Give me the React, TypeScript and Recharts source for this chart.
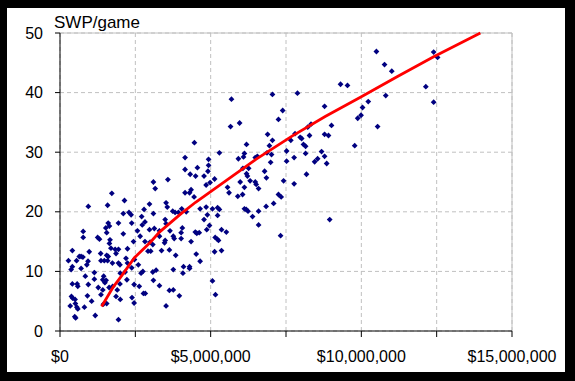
import React from 'react';
import { ScatterChart, Scatter, XAxis, YAxis, CartesianGrid, ReferenceLine } from 'recharts';

// player salary ($ millions) and SWP per game
const salaryM = [
  1.72, 1.58, 2.14, 0.94, 2.10, 2.29, 2.36, 1.60, 1.64, 1.94, 1.52, 1.55, 0.77, 0.77, 2.10, 1.25, 1.31, 1.66, 1.64, 2.44,
  1.94, 1.69, 1.83, 1.86, 2.24, 0.41, 0.97, 1.35, 1.55, 1.58, 1.47, 1.60, 0.64, 0.70, 0.76, 0.55, 0.28, 0.93, 0.89, 1.36,
  1.74, 1.94, 1.99, 2.19, 2.24, 0.41, 0.37, 0.70, 1.14, 2.16, 2.47, 0.84, 1.45, 1.42, 1.53, 1.49, 1.14, 2.00, 0.41, 0.57,
  0.59, 0.94, 1.27, 1.99, 2.22, 2.46, 1.42, 1.63, 1.75, 1.90, 0.38, 0.42, 0.50, 0.91, 1.36, 1.86, 2.00, 2.39, 1.05, 0.51,
  0.56, 0.59, 0.34, 0.81, 1.44, 1.55, 0.49, 0.52, 1.17, 1.94, 2.38,
  3.10, 3.16, 4.85, 4.15, 4.30, 4.35, 4.45, 2.97, 3.52, 3.56, 2.79, 2.38, 2.71, 3.10, 3.74, 3.82, 3.93, 4.04, 4.19, 4.65,
  4.85, 4.78, 2.82, 2.73, 3.49, 3.52, 2.57, 2.97, 3.13, 3.30, 3.65, 4.06, 4.02, 4.49, 4.54, 4.62, 4.87, 2.66, 3.30, 3.76,
  3.79, 4.02, 2.82, 2.99, 3.08, 3.49, 3.47, 4.35, 2.92, 3.01, 3.37, 3.63, 3.84, 4.52, 4.65, 2.60, 2.75, 2.69, 3.08, 3.19,
  3.76, 4.08, 4.10, 4.30, 4.30, 3.10, 2.63, 3.30, 3.63, 3.76, 2.77, 2.83, 3.96, 2.46, 3.52,
  5.98, 5.56, 5.61, 6.12, 6.48, 6.51, 6.59, 7.42, 5.90, 6.06, 7.25, 7.34, 7.09, 6.84, 6.12, 6.18, 6.24, 6.59, 6.39, 5.06,
  5.23, 5.29, 4.89, 5.23, 4.96, 6.59, 5.36, 5.52, 5.15, 5.22, 5.26, 7.32, 5.13, 5.36, 5.06, 5.16,
  7.05, 5.69, 7.39, 7.25, 5.66, 5.96, 4.46, 6.89, 7.05, 6.95, 6.19, 5.29, 7.52, 7.66, 6.87, 7.02, 6.48, 6.55, 6.09, 6.12,
  5.92, 4.15, 4.93, 6.99, 7.52, 7.77, 4.15, 4.56, 4.93, 4.91, 6.26, 6.07, 6.79, 4.32, 4.50, 4.78, 6.19, 6.22, 6.85, 5.13,
  4.98, 6.31, 7.77, 3.58,
  10.50, 12.40, 12.53, 10.77, 11.01, 9.31, 9.54, 12.14, 7.88, 10.81, 12.40, 10.23, 10.04, 8.78, 9.99, 9.88, 10.54, 9.01, 8.33, 8.22,
  8.78, 8.91, 8.28, 7.80, 7.97, 8.02, 8.08, 8.15, 9.78, 8.68, 8.15, 8.78, 8.55, 8.45, 8.85, 8.18, 8.95,
];

const swpPerGame = [
  23.1, 21.1, 21.9, 20.9, 19.7, 19.9, 19.5, 18.1, 17.6, 18.1, 17.3, 16.5, 16.7, 15.7, 16.3, 15.7, 15.4, 15.3, 14.7, 15.0,
  13.7, 13.9, 13.7, 13.0, 13.8, 13.5, 13.3, 13.0, 12.7, 11.8, 11.8, 12.5, 12.5, 12.5, 12.4, 11.8, 11.8, 11.7, 11.1, 11.8,
  11.4, 11.4, 11.1, 12.2, 11.4, 10.8, 10.3, 10.5, 9.8, 9.9, 12.0, 9.2, 9.2, 8.6, 8.5, 8.1, 8.7, 9.7, 7.9, 7.9,
  7.5, 7.8, 7.3, 7.9, 8.6, 7.8, 6.9, 7.3, 7.5, 6.9, 5.8, 5.5, 5.3, 5.9, 6.1, 5.8, 5.3, 5.6, 5.0, 4.6,
  4.0, 3.7, 4.2, 4.0, 4.5, 4.6, 2.4, 2.2, 2.6, 1.9, 10.6,
  25.0, 23.9, 24.5, 23.2, 23.2, 23.7, 22.5, 21.3, 21.5, 20.8, 20.4, 18.1, 19.2, 19.7, 20.1, 19.9, 19.9, 20.5, 20.0, 20.5,
  20.8, 18.7, 18.3, 17.8, 18.7, 18.0, 16.8, 17.0, 17.2, 16.8, 16.8, 17.3, 16.5, 16.6, 16.4, 16.5, 17.0, 15.9, 15.9, 15.9,
  15.5, 15.5, 15.0, 14.9, 14.5, 15.2, 14.8, 15.0, 13.4, 13.4, 13.5, 13.6, 12.7, 12.9, 11.7, 11.1, 10.0, 9.7, 9.9, 10.2,
  10.3, 9.7, 10.8, 10.8, 10.5, 8.5, 7.5, 7.6, 6.8, 6.9, 6.3, 6.3, 5.9, 4.7, 4.2,
  25.0, 24.1, 23.2, 24.1, 25.0, 24.6, 23.9, 25.2, 22.6, 22.9, 22.9, 22.5, 21.4, 20.9, 20.5, 20.4, 20.1, 20.1, 19.2, 20.5,
  20.7, 20.4, 19.5, 19.4, 17.7, 17.8, 17.0, 16.6, 15.7, 15.4, 15.2, 16.0, 13.3, 13.5, 8.4, 6.1,
  39.7, 38.9, 37.0, 35.5, 34.3, 34.9, 31.6, 33.0, 32.0, 31.1, 31.3, 29.9, 30.2, 32.0, 29.9, 29.6, 29.1, 29.3, 29.2, 29.8,
  28.9, 29.1, 28.8, 28.3, 28.5, 29.1, 27.1, 27.4, 27.8, 26.8, 27.3, 27.3, 26.8, 26.3, 26.0, 26.0, 26.4, 26.0, 25.7, 25.5,
  24.9, 25.2, 24.7, 25.4,
  46.9, 46.8, 45.9, 44.7, 43.6, 41.4, 41.2, 41.0, 39.9, 39.5, 38.4, 38.5, 37.5, 37.7, 36.2, 35.7, 34.3, 34.5, 34.7, 34.2,
  33.0, 32.8, 32.8, 33.1, 32.5, 32.3, 31.3, 31.0, 31.1, 30.1, 29.8, 29.3, 28.9, 28.4, 28.1, 26.3, 18.7,
];

// fitted trend line
const trendSalaryM = [1.38, 1.77, 2.05, 2.47, 3.0, 3.3, 4.0, 4.5, 5.0, 5.5, 6.5, 7.7, 8.8, 10.0, 11.2, 12.4, 13.95];
const trendSwp = [4.1, 7.4, 9.3, 12.3, 14.9, 16.6, 19.6, 21.6, 23.4, 25.2, 28.8, 32.7, 36.0, 39.3, 42.7, 46.0, 50.0];

const xTicks = [0, 2.5, 5, 7.5, 10, 12.5, 15];
const yTicks = [0, 10, 20, 30, 40, 50];

const FONT = '"Liberation Sans", Arial, sans-serif';

const players = salaryM.map((x, i) => ({ x, y: swpPerGame[i] }));
const trend = trendSalaryM.map((x, i) => ({ x, y: trendSwp[i] }));

const Diamond = (props: any) => {
  const { cx, cy } = props;
  const r = 2.9;
  return <path d={`M${cx},${cy - r}L${cx + r},${cy}L${cx},${cy + r}L${cx - r},${cy}Z`} fill="#000080" />;
};

const formatSalary = (v: number) =>
  v % 5 === 0 ? `$${(v * 1000000).toLocaleString('en-US')}` : '';

const App: React.FC = () => {
  const tickStyle = { fill: '#000', fontSize: 16, fontFamily: FONT };

  return (
    <div style={{ position: 'fixed', left: 0, top: 0, width: 575, height: 381, background: '#000', fontFamily: FONT }}>
      <div style={{ position: 'absolute', left: 7, top: 8, width: 558, height: 364, background: '#fff' }} />
      <div style={{ position: 'absolute', left: 54, top: 14, fontSize: 17, lineHeight: '17px', color: '#000' }}>
        SWP/game
      </div>
      <div style={{ position: 'absolute', left: 0, top: 0 }}>
        <ScatterChart width={575} height={381} margin={{ top: 33, right: 63, bottom: 10, left: 0 }}>
          <CartesianGrid stroke="#c0c0c0" strokeDasharray="4 3" />
          <XAxis
            type="number"
            dataKey="x"
            domain={[0, 15]}
            ticks={xTicks}
            tickFormatter={formatSalary}
            interval={0}
            height={40}
            stroke="#000"
            tickSize={6}
            tickMargin={14}
            tick={tickStyle}
          />
          <YAxis
            type="number"
            dataKey="y"
            domain={[0, 50]}
            ticks={yTicks}
            interval={0}
            width={60}
            stroke="#000"
            tickSize={5}
            tickMargin={12}
            tick={tickStyle}
          />
          <ReferenceLine y={50} stroke="#c0c0c0" />
          <ReferenceLine x={15} stroke="#c0c0c0" />
          <Scatter data={players} shape={<Diamond />} isAnimationActive={false} />
          <Scatter
            data={trend}
            line={{ stroke: '#ff0000', strokeWidth: 2.8 }}
            lineType="joint"
            shape={() => <g />}
            isAnimationActive={false}
          />
        </ScatterChart>
      </div>
    </div>
  );
};

export default App;
